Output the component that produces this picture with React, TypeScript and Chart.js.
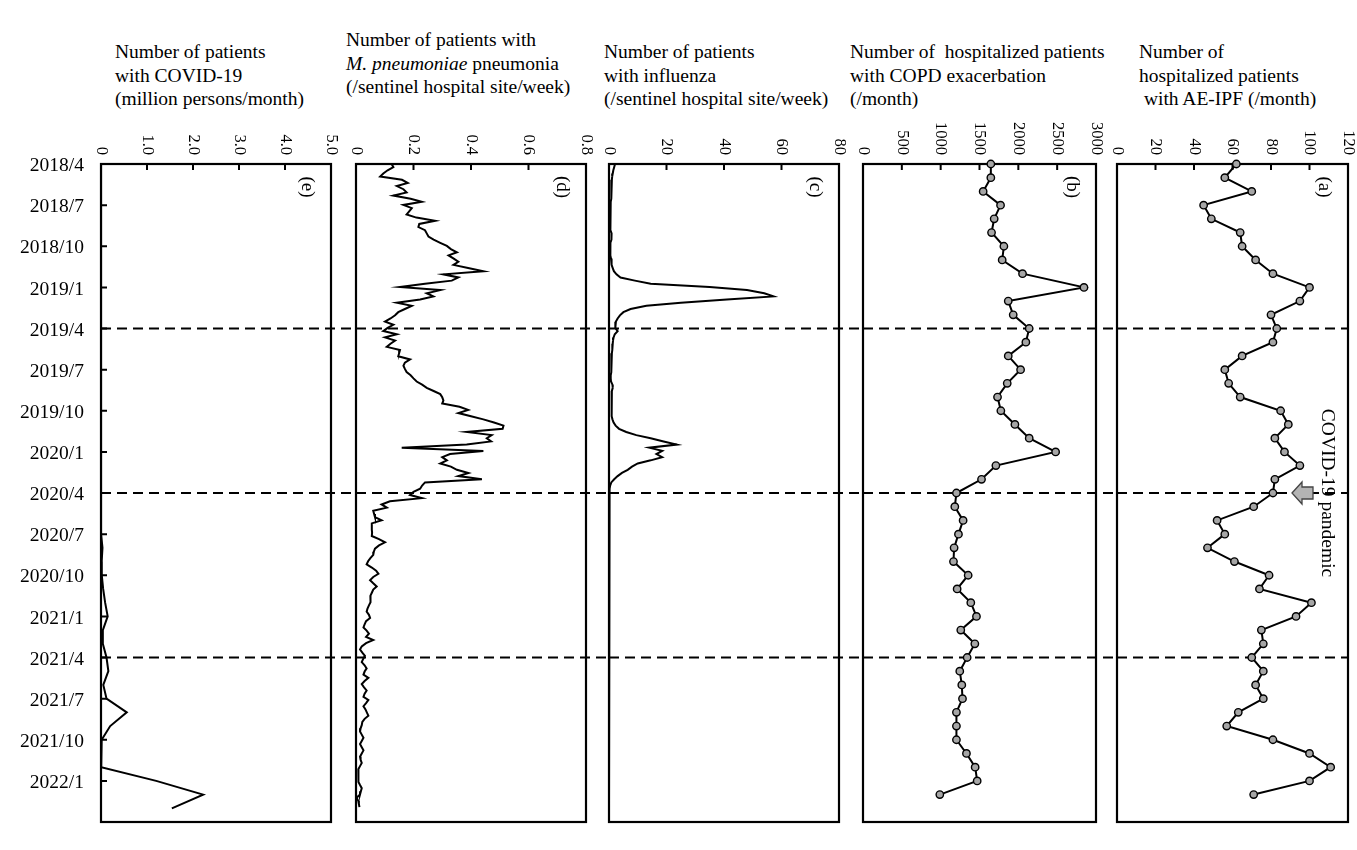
import React, { useEffect, useRef } from "react";
import { Chart, registerables } from "chart.js";

Chart.register(...registerables);

// time axis labels (every 3 months, from 2018/4)
const dateLabels = [
  "2018/4", "2018/7", "2018/10", "2019/1", "2019/4", "2019/7", "2019/10", "2020/1",
  "2020/4", "2020/7", "2020/10", "2021/1", "2021/4", "2021/7", "2021/10", "2022/1",
];
const periodBreaks = ["2019/4", "2020/4", "2021/4"];
const pandemicStart = "2020/4";

// monthly series, 2018/4 ..
const ipfMonthly = [
  62, 56, 70, 45, 49, 64, 65, 72, 81, 100, 95, 80,
  83, 81, 65, 56, 58, 64, 85, 89, 82, 87, 95, 82,
  81, 71, 52, 56, 47, 61, 79, 74, 101, 93, 75, 76,
  70, 76, 72, 76, 63, 57, 81, 100, 111, 100, 71,
];
const copdMonthly = [
  1646, 1646, 1547, 1771, 1689, 1655, 1814, 1792, 2054, 2845, 1870, 1934,
  2140, 2097, 1870, 2029, 1857, 1732, 1775, 1956, 2140, 2480, 1711, 1526,
  1203, 1182, 1289, 1229, 1173, 1165, 1354, 1212, 1388, 1461, 1259, 1440,
  1341, 1246, 1272, 1281, 1203, 1203, 1203, 1332, 1444, 1470, 989,
];
// million persons / month
const covidMonthly = [
  0, 0, 0, 0, 0, 0, 0, 0, 0, 0, 0, 0,
  0, 0, 0, 0, 0, 0, 0, 0, 0, 0, 0, 0.002,
  0.012, 0.002, 0.002, 0.017, 0.032, 0.015, 0.017, 0.047, 0.09, 0.145, 0.04, 0.04,
  0.12, 0.16, 0.05, 0.12, 0.56, 0.2, 0.015, 0.004, 0.006, 1.2, 2.22, 1.54,
];

// weekly series, first week of 2018/4 ..
const influenzaWeekly = [
  2.1, 1.8, 1.5, 1.3, 1.1, 1.0, 0.9, 0.9, 0.8, 0.8,
  0.7, 0.7, 0.6, 0.6, 0.5, 0.5, 0.5, 0.4, 0.4, 0.4,
  0.5, 0.6, 0.9, 1.0, 0.7, 0.5, 0.4, 0.4, 0.5, 0.6,
  0.7, 0.8, 1.0, 1.3, 1.7, 2.6, 4.0, 9.0, 14.5, 35,
  48, 54, 57.2, 41, 25, 13, 7.5, 5.0, 3.8, 3.0,
  2.4, 2.1, 2.3, 3.0, 2.0, 1.6, 1.4, 1.3, 1.2, 1.1,
  1.0, 0.9, 0.9, 0.8, 0.8, 0.7, 0.7, 0.6, 0.6, 0.7,
  1.2, 1.3, 1.0, 0.8, 0.8, 0.9, 0.9, 1.0, 1.0, 1.0,
  1.0, 1.2, 1.6, 2.3, 3.5, 6.0, 9.5, 14.5, 19, 23.6,
  14, 18.5, 16.5, 18.5, 14.5, 10, 8, 6.5, 4.5, 3.0,
  1.8, 0.8, 0.4, 0.2, 0.1, 0.1, 0.1, 0.0, 0.0, 0.0,
  0.0, 0.0, 0.0, 0.0, 0.0, 0.0, 0.0, 0.0, 0.0, 0.0,
  0.0, 0.0, 0.0, 0.0, 0.0, 0.0, 0.0, 0.0, 0.0, 0.0,
  0.0, 0.0, 0.0, 0.0, 0.0, 0.0, 0.0, 0.0, 0.0, 0.0,
  0.0, 0.0, 0.0, 0.0, 0.0, 0.0, 0.0, 0.0, 0.0, 0.0,
  0.0, 0.0, 0.0, 0.0, 0.0, 0.0, 0.0, 0.0, 0.0, 0.0,
  0.0, 0.0, 0.0, 0.0, 0.0, 0.0, 0.0, 0.0, 0.0, 0.0,
  0.0, 0.0, 0.0, 0.0, 0.0, 0.0, 0.0, 0.0, 0.0, 0.0,
  0.0, 0.0, 0.0, 0.0, 0.0, 0.0, 0.0, 0.0, 0.0, 0.0,
  0.0, 0.0, 0.0, 0.0, 0.0, 0.0, 0.0, 0.0, 0.0, 0.0,
  0.0, 0.0, 0.0, 0.0, 0.0,
];
const mycoplasmaWeekly = [
  0.124, 0.13, 0.11, 0.095, 0.084, 0.16, 0.18, 0.142, 0.165, 0.176,
  0.13, 0.19, 0.229, 0.165, 0.194, 0.185, 0.176, 0.21, 0.275, 0.22,
  0.217, 0.24, 0.246, 0.252, 0.27, 0.293, 0.316, 0.33, 0.351, 0.322,
  0.34, 0.356, 0.339, 0.39, 0.443, 0.304, 0.356, 0.333, 0.24, 0.153,
  0.293, 0.246, 0.269, 0.223, 0.142, 0.194, 0.17, 0.147, 0.136, 0.12,
  0.101, 0.13, 0.11, 0.095, 0.142, 0.101, 0.136, 0.12, 0.107, 0.153,
  0.15, 0.147, 0.188, 0.17, 0.165, 0.17, 0.176, 0.19, 0.2, 0.211,
  0.23, 0.246, 0.27, 0.293, 0.3, 0.304, 0.3, 0.36, 0.39, 0.356,
  0.4, 0.443, 0.48, 0.513, 0.51, 0.385, 0.472, 0.455, 0.47, 0.385,
  0.159, 0.443, 0.327, 0.3, 0.316, 0.293, 0.33, 0.351, 0.391, 0.356,
  0.438, 0.24, 0.23, 0.223, 0.2, 0.188, 0.229, 0.118, 0.089, 0.107,
  0.06, 0.063, 0.066, 0.089, 0.055, 0.055, 0.055, 0.056, 0.055, 0.08,
  0.101, 0.08, 0.066, 0.062, 0.06, 0.05, 0.042, 0.037, 0.055, 0.07,
  0.078, 0.06, 0.049, 0.06, 0.072, 0.06, 0.055, 0.05, 0.052, 0.049,
  0.045, 0.04, 0.037, 0.045, 0.049, 0.035, 0.03, 0.026, 0.037, 0.045,
  0.035, 0.06, 0.035, 0.02, 0.014, 0.022, 0.031, 0.025, 0.02, 0.03,
  0.037, 0.03, 0.026, 0.043, 0.03, 0.02, 0.028, 0.037, 0.03, 0.026,
  0.043, 0.035, 0.026, 0.033, 0.038, 0.043, 0.03, 0.022, 0.02, 0.016,
  0.014, 0.02, 0.026, 0.02, 0.014, 0.02, 0.026, 0.02, 0.014, 0.016,
  0.02, 0.014, 0.008, 0.01, 0.008, 0.008, 0.008, 0.014, 0.02, 0.017,
  0.014, 0.002, 0.008, 0.01, 0.012,
];

// value axis tick labels
const ipfTicks = ["0", "20", "40", "60", "80", "100", "120"];
const copdTicks = ["0", "500", "1000", "1500", "2000", "2500", "3000"];
const influenzaTicks = ["0", "20", "40", "60", "80"];
const mycoplasmaTicks = ["0", "0.2", "0.4", "0.6", "0.8"];
const covidTicks = ["0", "1.0", "2.0", "3.0", "4.0", "5.0"];

const SERIF = '"Liberation Serif", "Times New Roman", serif';
const PAGE_H = 850;
const PANEL_TOP = 164;
const PANEL_BOTTOM = 822;
const WEEKS_PER_MONTH = 52.18 / 12;

// "2019/4" -> months since 2018/4
const monthIndex = (s: string) => {
  const [y, m] = s.split("/").map(Number);
  return (y - 2018) * 12 + (m - 4);
};

const monthly = (vals: number[]) => vals.map((v, i) => ({ x: v, y: i }));
const weekly = (vals: number[]) => vals.map((v, i) => ({ x: v, y: i / WEEKS_PER_MONTH }));

type PanelSpec = {
  letter: string;
  left: number;
  right: number;
  canvasLeft: number;
  canvasRight: number;
  points: { x: number; y: number }[];
  ticks: string[];
  markers: boolean;
  dashToEdge: boolean;
  dateAxis?: boolean;
  pandemicNote?: boolean;
};

function rotText(ctx: CanvasRenderingContext2D, text: string, x: number, y: number, align: CanvasTextAlign, baseline: CanvasTextBaseline) {
  ctx.save();
  ctx.translate(x, y);
  ctx.rotate(Math.PI / 2);
  ctx.textAlign = align;
  ctx.textBaseline = baseline;
  ctx.fillText(text, 0, 0);
  ctx.restore();
}

function makeDeco(p: PanelSpec) {
  return {
    id: "panelDeco",
    beforeDatasetsDraw(chart: any) {
      const { ctx, chartArea: area, scales } = chart;
      const xs = scales.x, ys = scales.y;
      ctx.save();
      ctx.strokeStyle = "#000";
      ctx.lineWidth = 2;
      ctx.setLineDash([10, 6]);
      const end = p.dashToEdge ? chart.width : area.right;
      periodBreaks.forEach((d) => {
        const py = ys.getPixelForValue(monthIndex(d));
        ctx.beginPath();
        ctx.moveTo(area.left, py);
        ctx.lineTo(end, py);
        ctx.stroke();
      });
      ctx.setLineDash([]);
      ctx.lineWidth = 2.2;
      ctx.strokeRect(area.left, area.top, area.right - area.left, area.bottom - area.top);
      ctx.lineWidth = 2;
      ctx.beginPath();
      xs.ticks.forEach((t: any) => {
        const px = xs.getPixelForValue(t.value);
        ctx.moveTo(px, area.top);
        ctx.lineTo(px, area.top + 6);
      });
      if (p.dateAxis) {
        dateLabels.forEach((d) => {
          const py = ys.getPixelForValue(monthIndex(d));
          ctx.moveTo(area.left, py);
          ctx.lineTo(area.left + 6, py);
        });
      }
      ctx.stroke();
      ctx.restore();
    },
    afterDraw(chart: any) {
      const { ctx, chartArea: area, scales } = chart;
      const xs = scales.x, ys = scales.y;
      ctx.save();
      ctx.fillStyle = "#000";
      ctx.font = `16.5px ${SERIF}`;
      p.ticks.forEach((t) => {
        rotText(ctx, t, xs.getPixelForValue(Number(t)), area.top - 9, "right", "middle");
      });
      ctx.font = `19px ${SERIF}`;
      rotText(ctx, `(${p.letter})`, area.right - 24, area.top + 23, "center", "middle");
      if (p.dateAxis) {
        ctx.font = `19.5px ${SERIF}`;
        ctx.textAlign = "right";
        ctx.textBaseline = "middle";
        dateLabels.forEach((d) => {
          ctx.fillText(d, area.left - 17, ys.getPixelForValue(monthIndex(d)) + 2);
        });
      }
      if (p.pandemicNote) {
        const py = ys.getPixelForValue(monthIndex(pandemicStart));
        const r = area.right;
        ctx.beginPath();
        ctx.moveTo(r - 56, py);
        ctx.lineTo(r - 46, py - 11);
        ctx.lineTo(r - 46, py - 6);
        ctx.lineTo(r - 35, py - 6);
        ctx.lineTo(r - 35, py + 6);
        ctx.lineTo(r - 46, py + 6);
        ctx.lineTo(r - 46, py + 11);
        ctx.closePath();
        ctx.fillStyle = "#b4b4b4";
        ctx.fill();
        ctx.strokeStyle = "#444";
        ctx.lineWidth = 1.3;
        ctx.stroke();
        ctx.fillStyle = "#000";
        ctx.font = `19.5px ${SERIF}`;
        rotText(ctx, "COVID-19 pandemic", r - 26, py, "center", "alphabetic");
      }
      ctx.restore();
    },
  };
}

const Panel = ({ spec }: { spec: PanelSpec }) => {
  const ref = useRef<HTMLCanvasElement>(null);
  useEffect(() => {
    const p = spec;
    const chart = new Chart(ref.current as HTMLCanvasElement, {
      type: "line",
      data: {
        datasets: [
          {
            data: p.points,
            borderColor: "#000",
            borderWidth: 2,
            pointRadius: p.markers ? 3.7 : 0,
            pointBackgroundColor: "#a6a6a6",
            pointBorderColor: "#000",
            pointBorderWidth: 1.4,
            tension: 0,
            clip: false,
          } as any,
        ],
      },
      options: {
        indexAxis: "y",
        animation: false,
        maintainAspectRatio: false,
        events: [],
        layout: {
          padding: {
            left: p.left - p.canvasLeft,
            right: p.canvasRight - p.right,
            top: PANEL_TOP,
            bottom: PAGE_H - PANEL_BOTTOM,
          },
        },
        scales: {
          x: {
            type: "linear",
            display: false,
            min: 0,
            max: Number(p.ticks[p.ticks.length - 1]),
            afterBuildTicks: (s: any) => {
              s.ticks = p.ticks.map((t) => ({ value: Number(t) }));
            },
          },
          y: { type: "linear", display: false, min: 0, max: 48, reverse: true },
        },
        plugins: { legend: { display: false }, tooltip: { enabled: false } },
      } as any,
      plugins: [makeDeco(p) as any],
    });
    return () => chart.destroy();
  }, [spec]);
  return (
    <div style={{ position: "absolute", left: spec.canvasLeft, top: 0, width: spec.canvasRight - spec.canvasLeft, height: PAGE_H }}>
      <canvas ref={ref} />
    </div>
  );
};

const panels: PanelSpec[] = [
  { letter: "e", left: 101, right: 331, canvasLeft: 0, canvasRight: 356, points: monthly(covidMonthly), ticks: covidTicks, markers: false, dashToEdge: true, dateAxis: true },
  { letter: "d", left: 356, right: 586, canvasLeft: 326, canvasRight: 609, points: weekly(mycoplasmaWeekly), ticks: mycoplasmaTicks, markers: false, dashToEdge: true },
  { letter: "c", left: 609, right: 839, canvasLeft: 579, canvasRight: 863, points: weekly(influenzaWeekly), ticks: influenzaTicks, markers: false, dashToEdge: true },
  { letter: "b", left: 863, right: 1096, canvasLeft: 833, canvasRight: 1117, points: monthly(copdMonthly), ticks: copdTicks, markers: true, dashToEdge: true },
  { letter: "a", left: 1117, right: 1348, canvasLeft: 1087, canvasRight: 1357, points: monthly(ipfMonthly), ticks: ipfTicks, markers: true, dashToEdge: false, pandemicNote: true },
];

const titleStyle = (left: number, top: number): React.CSSProperties => ({
  position: "absolute",
  left,
  top,
  font: `19.5px ${SERIF}`,
  lineHeight: "23.5px",
  whiteSpace: "pre",
  color: "#000",
});

export default function App() {
  return (
    <div style={{ position: "absolute", left: 0, top: 0, width: 1357, height: PAGE_H, background: "#fff", overflow: "hidden" }}>
      <div style={titleStyle(115, 40)}>
        {"Number of patients\nwith COVID-19\n(million persons/month)"}
      </div>
      <div style={titleStyle(346, 28)}>
        {"Number of patients with\n"}
        <i>M. pneumoniae</i>
        {" pneumonia\n(/sentinel hospital site/week)"}
      </div>
      <div style={titleStyle(604, 40)}>
        {"Number of patients\nwith influenza\n(/sentinel hospital site/week)"}
      </div>
      <div style={titleStyle(850, 40)}>
        {"Number of  hospitalized patients\nwith COPD exacerbation\n(/month)"}
      </div>
      <div style={titleStyle(1139, 40)}>
        {"Number of\nhospitalized patients\n with AE-IPF (/month)"}
      </div>
      {panels.map((p) => (
        <Panel key={p.letter} spec={p} />
      ))}
    </div>
  );
}
